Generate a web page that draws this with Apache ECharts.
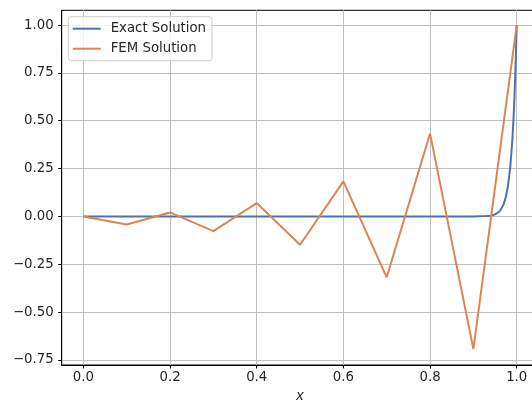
<!DOCTYPE html>
<html>
<head>
<meta charset="utf-8">
<script src="https://cdn.jsdelivr.net/npm/echarts@6/dist/echarts.min.js"></script>
<style>
html,body{margin:0;padding:0;background:#fff;}
#chart{width:532px;height:404px;}
</style>
</head>
<body>
<div id="chart"></div>
<script>
// FEM nodal solution (10 elements)
const femX = [0.0, 0.1, 0.2, 0.3, 0.4, 0.5, 0.6, 0.7, 0.8, 0.9, 1.0];
const femY = [0.0, -0.042, 0.021, -0.077, 0.070, -0.148, 0.183, -0.318, 0.433, -0.693, 1.0];
// Exact solution (boundary layer at x = 1)
const exactX = [0.0, 0.2, 0.4, 0.6, 0.8, 0.9, 0.93, 0.94, 0.95, 0.96, 0.965, 0.97, 0.975, 0.98, 0.985, 0.99, 0.9925, 0.995, 0.9975, 1.0];
const exactY = [0.0, 0.0, 0.0, 0.0, 0.0, 0.0, 0.002, 0.004, 0.011, 0.026, 0.042, 0.065, 0.103, 0.162, 0.256, 0.403, 0.506, 0.635, 0.797, 1.0];
// Axis ticks
const xTicks = [0.0, 0.2, 0.4, 0.6, 0.8, 1.0];
const yTicks = [-0.75, -0.5, -0.25, 0.0, 0.25, 0.5, 0.75, 1.0];
const seriesNames = ['Exact Solution', 'FEM Solution'];

const font = 'DejaVu Sans';
const textColor = '#262626';
const gridColor = '#bfbfbf';

const chart = echarts.init(document.getElementById('chart'), null, {renderer: 'canvas'});
const fmtNum = (v, d) => v.toFixed(d).replace('-', '\u2212');

chart.setOption({
  animation: false,
  backgroundColor: '#ffffff',
  grid: {
    left: 61.7, top: 10.3, width: 476.7, height: 354.7,
    outerBoundsMode: 'none', containLabel: false,
    show: true, borderColor: '#000', borderWidth: 1, backgroundColor: 'transparent'
  },
  legend: {
    orient: 'vertical',
    left: 68.3, top: 16.7,
    padding: [5, 6, 5, 4.4],
    itemGap: 6,
    itemWidth: 28, itemHeight: 2,
    icon: 'rect',
    borderColor: '#cccccc', borderWidth: 1, borderRadius: 3,
    backgroundColor: 'rgba(255,255,255,0.8)',
    textStyle: {fontFamily: font, fontSize: 13.3, color: textColor, lineHeight: 14, padding: [0, 0, 0, 5]},
    data: seriesNames
  },
  xAxis: {
    type: 'value', min: -0.05, max: 1.05,
    name: 'x', nameLocation: 'middle', nameGap: 25,
    nameTextStyle: {fontFamily: font, fontSize: 13.3, fontStyle: 'italic', color: textColor},
    axisLine: {show: true, onZero: false, lineStyle: {color: '#000', width: 1}},
    axisTick: {show: true, length: 3.5, inside: false, customValues: xTicks, lineStyle: {color: '#000', width: 1}},
    axisLabel: {customValues: xTicks, margin: 6, fontFamily: font, fontSize: 13.3, color: textColor,
      formatter: v => fmtNum(v, 1)},
    splitLine: {show: true, lineStyle: {color: gridColor, width: 1}}
  },
  yAxis: {
    type: 'value', min: -0.776, max: 1.077,
    axisLine: {show: true, onZero: false, lineStyle: {color: '#000', width: 1}},
    axisTick: {show: true, length: 3.5, inside: false, customValues: yTicks, lineStyle: {color: '#000', width: 1}},
    axisLabel: {customValues: yTicks, margin: 8, fontFamily: font, fontSize: 13.3, color: textColor,
      formatter: v => fmtNum(v, 2)},
    splitLine: {show: true, lineStyle: {color: gridColor, width: 1}}
  },
  series: [
    {
      name: seriesNames[0], type: 'line', showSymbol: false, symbol: 'none',
      data: exactX.map((x, i) => [x, exactY[i]]),
      lineStyle: {color: '#4c72b0', width: 2},
      itemStyle: {color: '#4c72b0'}, z: 2
    },
    {
      name: seriesNames[1], type: 'line', showSymbol: false, symbol: 'none',
      data: femX.map((x, i) => [x, femY[i]]),
      lineStyle: {color: '#dd8452', width: 2},
      itemStyle: {color: '#dd8452'}, z: 3
    }
  ]
});
</script>
</body>
</html>
